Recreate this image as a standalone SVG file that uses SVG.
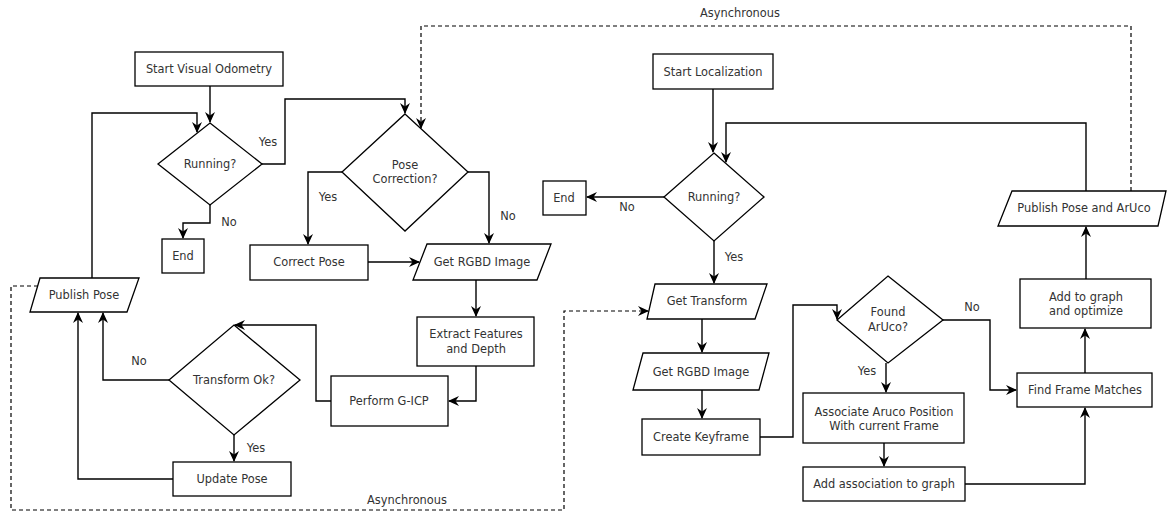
<svg xmlns="http://www.w3.org/2000/svg" width="1168" height="512" viewBox="0 0 1168 512">
<defs>
<marker id="ah" markerUnits="userSpaceOnUse" markerWidth="11" markerHeight="11" refX="10" refY="5.5" orient="auto">
<path d="M0,0.5 L11,5.5 L0,10.5 L3.5,5.5 z" fill="#000"/>
</marker>
</defs>
<style>
.n rect,.n polygon{fill:#fff;stroke:#000;stroke-width:1.3}
text{font-family:"DejaVu Sans",sans-serif;font-size:11.4px;fill:#333;text-anchor:middle;dominant-baseline:central}
.c path{fill:none;stroke:#000;stroke-width:1.4;marker-end:url(#ah)}
.c path.d{stroke-width:1.2;stroke-dasharray:4,3}
</style>
<rect width="1168" height="512" fill="#fff"/>
<g id="connectors" class="c">
<path d="M210,86 V122"/>
<path d="M92,278 V113 H197 V132"/>
<path d="M262,164 H285 V99 H405 V113"/>
<path d="M210,205 V223 H183 V238"/>
<path d="M342,172 H308 V244"/>
<path d="M468,172 H489 V243"/>
<path d="M368,262 H419"/>
<path d="M476,280 V316"/>
<path d="M476,366 V401 H449"/>
<path d="M331,401 H316 V325 H235"/>
<path d="M169,380 H103 V313"/>
<path d="M234,435 V461"/>
<path d="M173,479 H78 V313"/>
<path class="d" d="M38,286 H11 V510 H564 V311 H648"/>
<path class="d" d="M1131,191 V26 H421 V128"/>
<path d="M713,89 V152"/>
<path d="M1086,191 V123 H726 V162"/>
<path d="M664,197 H587"/>
<path d="M714,241 V283"/>
<path d="M702,319 V352"/>
<path d="M702,390 V418"/>
<path d="M760,437 H793 V305 H837 V319"/>
<path d="M943,320 H990 V390 H1016"/>
<path d="M886,363 V392"/>
<path d="M884,443 V466"/>
<path d="M965,484 H1085 V408"/>
<path d="M1085,373 V329"/>
<path d="M1086,279 V227"/>
</g>
<g id="labels">
<text x="268" y="142">Yes</text>
<text x="229" y="222">No</text>
<text x="328" y="197">Yes</text>
<text x="508" y="216">No</text>
<text x="139" y="361">No</text>
<text x="256" y="448">Yes</text>
<text x="407" y="500">Asynchronous</text>
<text x="740" y="13">Asynchronous</text>
<text x="627" y="207">No</text>
<text x="734" y="257">Yes</text>
<text x="972" y="307">No</text>
<text x="867" y="371">Yes</text>
</g>
<g id="startVO" class="n"><rect x="135" y="52" width="148" height="34"/><text x="209" y="69">Start Visual Odometry</text></g>
<g id="running1" class="n"><polygon points="210,123 262,164 210,205 158,164"/><text x="210" y="164">Running?</text></g>
<g id="end1" class="n"><rect x="162" y="239" width="42" height="34"/><text x="183" y="256">End</text></g>
<g id="poseCorrection" class="n"><polygon points="405,114 468,172 405,231 342,172"/><text x="405" y="165">Pose</text><text x="405" y="179">Correction?</text></g>
<g id="correctPose" class="n"><rect x="250" y="245" width="118" height="35"/><text x="309" y="262">Correct Pose</text></g>
<g id="getRGBD1" class="n"><polygon points="427,244 551,244 537,280 413,280"/><text x="482" y="262">Get RGBD Image</text></g>
<g id="extract" class="n"><rect x="417" y="317" width="117" height="49"/><text x="476" y="334">Extract Features</text><text x="476" y="349">and Depth</text></g>
<g id="gicp" class="n"><rect x="331" y="376" width="117" height="50"/><text x="389" y="401">Perform G-ICP</text></g>
<g id="transformOk" class="n"><polygon points="234,325 300,380 234,435 169,380"/><text x="234" y="380">Transform Ok?</text></g>
<g id="updatePose" class="n"><rect x="173" y="462" width="118" height="34"/><text x="232" y="479">Update Pose</text></g>
<g id="publishPose" class="n"><polygon points="40,278 139,278 127,312 30,312"/><text x="84" y="295">Publish Pose</text></g>
<g id="startLoc" class="n"><rect x="653" y="54" width="120" height="35"/><text x="713" y="72">Start Localization</text></g>
<g id="running2" class="n"><polygon points="714,153 764,197 714,241 664,197"/><text x="714" y="197">Running?</text></g>
<g id="end2" class="n"><rect x="543" y="181" width="43" height="34"/><text x="564" y="198">End</text></g>
<g id="getTransform" class="n"><polygon points="655,284 767,284 755,319 647,319"/><text x="707" y="301">Get Transform</text></g>
<g id="getRGBD2" class="n"><polygon points="643,353 769,353 759,390 633,390"/><text x="701" y="372">Get RGBD Image</text></g>
<g id="createKeyframe" class="n"><rect x="642" y="419" width="118" height="36"/><text x="701" y="437">Create Keyframe</text></g>
<g id="foundAruco" class="n"><polygon points="888,276 943,320 888,363 837,320"/><text x="888" y="312">Found</text><text x="888" y="327">ArUco?</text></g>
<g id="associate" class="n"><rect x="803" y="393" width="161" height="50"/><text x="884" y="412">Associate Aruco Position</text><text x="884" y="426">With current Frame</text></g>
<g id="addAssoc" class="n"><rect x="803" y="467" width="162" height="34"/><text x="884" y="484">Add association to graph</text></g>
<g id="findFrame" class="n"><rect x="1017" y="373" width="135" height="34"/><text x="1085" y="390">Find Frame Matches</text></g>
<g id="addGraph" class="n"><rect x="1020" y="279" width="131" height="49"/><text x="1086" y="297">Add to graph</text><text x="1086" y="311">and optimize</text></g>
<g id="publishPA" class="n"><polygon points="1012,191 1166,191 1158,226 998,226"/><text x="1084" y="208">Publish Pose and ArUco</text></g>
</svg>
